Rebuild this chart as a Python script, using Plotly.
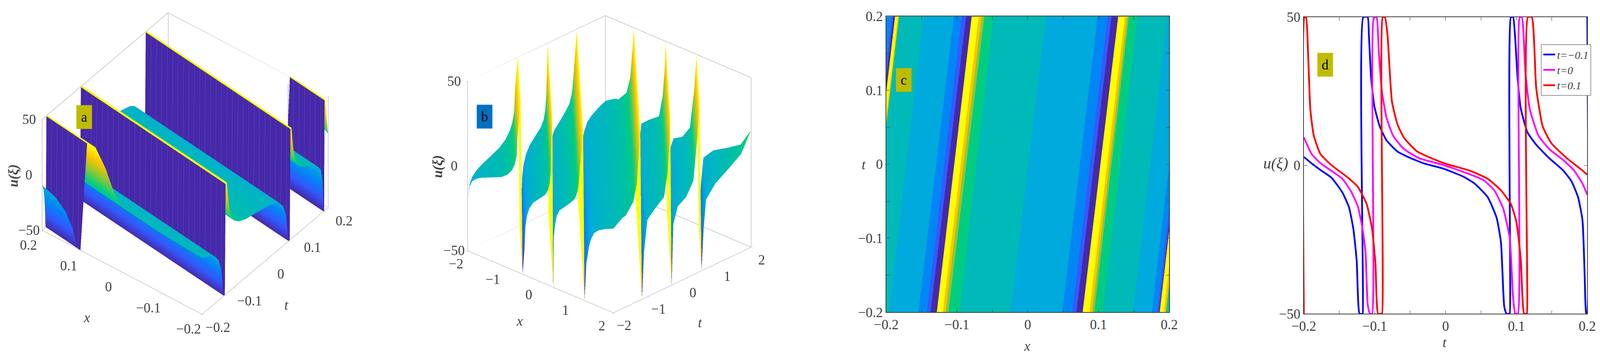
#%% u(xi) soliton figure: two surfaces, one contour map, one line plot
import plotly.graph_objects as go

W, H = 4142, 928
FIG_W, FIG_H = 4089, 916   # the photographed page comes out slightly larger than the layout
OFFSET = 5                 # body margin of the page, in px
FONT = "Liberation Serif"
TXT = "#3f3f3f"
FRAME = "#a6a6a6"

# shared colour levels, purple to yellow
levels = ["#4628aa", "#325aff", "#0087f5", "#00aadc", "#00b9b9", "#00cd82", "#8cc832", "#ffc300", "#ffff00"]

#%% panel d values
d_x_blue = [-0.2, -0.1891, -0.1767, -0.1611, -0.1456, -0.1363, -0.1301, -0.1254, -0.1214, -0.1176, -0.1170, -0.1161, -0.1099, -0.1083, -0.1052, -0.1005, -0.0928, -0.0834, -0.0679, -0.0524, -0.0306, -0.0026, 0.0253, 0.0409, 0.0595, 0.0720, 0.0782, 0.0828, 0.0859, 0.0900, 0.0906, 0.0922, 0.0953, 0.0984, 0.1015, 0.1061, 0.1155, 0.1279, 0.1465, 0.1652, 0.1776, 0.1870, 0.1932, 0.1963, 0.1984, 0.1995, 0.2]
d_u_blue = [2.9, 0.7, -1.5, -4.1, -9.1, -14.1, -21.4, -32.2, -50, -50, -50, 50, 50, 44.6, 30, 20, 13.1, 8.5, 4.7, 2.8, 0.7, -1.1, -3.8, -6.1, -10.7, -17.6, -26, -47.5, -50, -50, -50, 50, 50, 42.3, 30, 19.3, 11.2, 7, 2.4, -1.5, -5.3, -10.7, -18.4, -36.8, -50, -50, 50]

d_x_mag = [-0.2, -0.1891, -0.1767, -0.1611, -0.1456, -0.1332, -0.1239, -0.1176, -0.1130, -0.1099, -0.1068, -0.1037, -0.1012, -0.0974, -0.0943, -0.0897, -0.0834, -0.0741, -0.0586, -0.0368, -0.0026, 0.0253, 0.0533, 0.0688, 0.0813, 0.0906, 0.0953, 0.0984, 0.1021, 0.1046, 0.1077, 0.1124, 0.1186, 0.1310, 0.1465, 0.1652, 0.1807, 0.1932, 0.2]
d_u_mag = [9.5, 3.9, 0.8, -1.8, -4.5, -8.8, -13.7, -20.7, -29.1, -46.8, -50, -50, 50, 50, 38.5, 24.7, 16.2, 10.1, 5.5, 2.4, 0.1, -2.2, -4.9, -8.4, -14.5, -24.5, -44.5, -50, -50, 50, 50, 32.3, 19.3, 10.1, 5.5, 2, -1.5, -6.1, -9.9]

d_x_red = [-0.2, -0.199, -0.1969, -0.1938, -0.1907, -0.186, -0.1767, -0.1611, -0.1394, -0.1239, -0.1114, -0.1037, -0.099, -0.0953, -0.0912, -0.0897, -0.0887, -0.0856, -0.0819, -0.0757, -0.0679, -0.0586, -0.04, -0.0026, 0.0347, 0.0595, 0.0782, 0.0922, 0.1, 0.1061, 0.1108, 0.1142, 0.1148, 0.1161, 0.1217, 0.1279, 0.1372, 0.1496, 0.1714, 0.19, 0.2]
d_u_red = [-50, 50, 50, 36.2, 18.5, 10.1, 3.9, 0.1, -3.8, -7.2, -13, -21.4, -32.9, -50, -50, -50, 50, 50, 43.9, 21.6, 13.9, 9.3, 4.7, 0.8, -1.8, -4.5, -8.4, -13, -19.1, -31.4, -50, -50, -50, 50, 50, 26.2, 13.1, 7.4, 2.4, -1.1, -3.1]

#%% panel a profile across the fronts, the part outside panel d read from a and c
a_xi_left = [-0.24, -0.224, -0.22, -0.217, -0.215, -0.2135, -0.2125, -0.2105, -0.208, -0.205, -0.2025]
a_u_left = [-5, -9.4, -14, -22, -33, -48, -50, 50, 50, 36, 18.5]
a_xi_right = [0.205, 0.208, 0.2095, 0.2112, 0.2125, 0.215, 0.218, 0.222, 0.227, 0.24]
a_u_right = [-18.4, -36.8, -50, -50, 50, 50, 36, 20, 12, 5]
a_drift = 0.12   # slope of the fronts, from panel c
# walls of panel a: foot and top of each jump, and the pale stripes seen on them
a_wall_foot = [-0.2125, -0.1037, 0.1021, 0.2112]
a_wall_top = [-0.2105, -0.1012, 0.1046, 0.2125]
a_stripe_x = [-0.19, -0.175, -0.16, -0.145, -0.13, -0.115, -0.1, -0.085, -0.07, -0.055, -0.04, -0.025, -0.01, 0.005, 0.02, 0.035, 0.05, 0.065, 0.08, 0.095, 0.11, 0.125, 0.14, 0.155, 0.17, 0.185]

#%% panel b profile along x+t, read from the lower rim of the ribbon
b_xi = [-4, -3.94, -3.87, -3.74, -3.6, -3.39, -3.07, -2.9, -2.78, -2.705, -2.65, -2.63, -2.57, -2.54, -2.49, -2.44, -2.415, -2.37, -2.30, -2.2, -2.02, -1.88, -1.79, -1.745, -1.72, -1.69, -1.675, -1.65, -1.635, -1.6, -1.55, -1.48, -1.32, -1.18, -1.05, -0.98, -0.95, -0.855, -0.83, -0.79, -0.74, -0.70, -0.67, -0.61, -0.525, -0.4, -0.225, -0.015, 0.27, 0.36, 0.58, 0.68, 0.75, 0.78, 0.83, 0.89, 0.99, 1.19, 1.47, 1.57, 1.63, 1.65, 1.69, 1.74, 1.87, 2.11, 2.32, 2.44, 2.50, 2.56, 2.62, 2.69, 2.96, 3.37, 3.71, 4]
b_u = [-19.8, -11.3, -7.7, -5, -3.2, -1.2, 2, 5, 8.8, 12.8, 18.6, 29, 45.6, 50, -50, -35.4, -21.6, -14.4, -9.2, -5.2, -1, 2.2, 6, 11, 18, 37.8, 50, -50, -20.4, -12.6, -6.8, -3.2, 0.6, 4.1, 7.9, 12.7, 17.5, 42.5, 50, -50, -27.4, -21.8, -17, -12, -7.7, -5, -2.7, -0.5, 3.5, 3.9, 9.9, 19.6, 39, 50, -50, -22.4, -4.6, -0.6, 4.1, 16.6, 34.7, 50, -50, -14.7, -5.3, -2.2, 5.2, 29.5, 50, -50, -25.7, -9.2, -2.4, 3, 7.9, 19.1]

#%% panel c colour bands: where each band starts at t=-0.2 and at t=0.2
c_start_bottom = [-0.35, -0.2408, -0.2386, -0.2361, -0.232, -0.2307, -0.2298, -0.1959, -0.1545, -0.1426, -0.1373, -0.1285, -0.12, -0.1162, -0.1122, -0.0965, -0.0243, 0.0488, 0.0629, 0.0689, 0.0776, 0.0871, 0.0908, 0.094, 0.1059, 0.1489, 0.1755, 0.1827, 0.1852, 0.1865, 0.1922, 0.1953]
c_start_top = [-0.35, -0.1922, -0.19, -0.1875, -0.1834, -0.1821, -0.1812, -0.1473, -0.1043, -0.0933, -0.0871, -0.0792, -0.0692, -0.0651, -0.0613, -0.0485, 0.0259, 0.0987, 0.1128, 0.1184, 0.1278, 0.1373, 0.1404, 0.1429, 0.1551, 0.1975, 0.2241, 0.2313, 0.2338, 0.2351, 0.2408, 0.2439]
c_level = [2, 1, 0, 8, 7, 5, 4, 3, 2, 1, 0, 8, 7, 6, 5, 4, 3, 2, 1, 0, 8, 7, 6, 5, 4, 3, 2, 1, 0, 8, 7, 5]

#%% tick values
ticks_a = [-0.2, -0.1, 0, 0.1, 0.2]
ticks_b = [-2, -1, 0, 1, 2]
ticks_u = [-50, 0, 50]
ticks_fine = [-0.2, -0.15, -0.1, -0.05, 0, 0.05, 0.1, 0.15, 0.2]
labels_fine = ["−0.2", "", "−0.1", "", "0", "", "0.1", "", "0.2"]


def label(v):
    return str(v).replace("-", "−")


def px(x):
    return (x - OFFSET) / W


def py(y):
    return 1 - (y - OFFSET) / H


def with_walls(xi, u, wall):
    # repeat the knots at a jump so the wall gets one flat colour
    xs, zs, cs = [xi[0]], [u[0]], [u[0]]
    for i in range(1, len(xi)):
        if abs(u[i] - u[i - 1]) > 90:
            xs += [xi[i - 1], xi[i]]
            zs += [u[i - 1], u[i]]
            cs += [wall, wall]
        xs.append(xi[i])
        zs.append(u[i])
        cs.append(u[i])
    return xs, zs, cs


def frame3d(xr, yr, scene):
    x0, x1 = xr
    y0, y1 = yr
    zl, zh = -50, 50
    xs = [x0, x0, None, x0, x0, None, x1, x1, None, x0, x0, x1, None, x0, x0, x1]
    ys = [y0, y0, None, y1, y1, None, y1, y1, None, y0, y1, y1, None, y0, y1, y1]
    zs = [zl, zh, None, zl, zh, None, zl, zh, None, zh, zh, zh, None, zl, zl, zl]
    return go.Scatter3d(x=xs, y=ys, z=zs, mode="lines", line=dict(color=FRAME, width=2),
                        showlegend=False, hoverinfo="skip", scene=scene)


def surf(rows_x, rows_y, z, c, scene):
    cs = [[i / 8, levels[i]] for i in range(9)]
    return go.Surface(x=rows_x, y=rows_y, z=[z, z], surfacecolor=[c, c], colorscale=cs, cmin=-50, cmax=50,
                      showscale=False, hoverinfo="skip", scene=scene,
                      lighting=dict(ambient=1, diffuse=0, specular=0, roughness=1, fresnel=0))


def axis3d(r, vals, title=""):
    return dict(range=r, tickvals=vals, showticklabels=False, ticks="outside", ticklen=8, tickcolor=FRAME,
                showgrid=False, zeroline=False, showbackground=False, showspikes=False, showline=True,
                linecolor=FRAME, linewidth=2, title=dict(text=title))


def ann3d(x, y, z, text, dx, dy):
    return dict(x=x, y=y, z=z, text=text, showarrow=False, xshift=dx, yshift=dy,
                font=dict(family=FONT, size=35, color=TXT))


fig = go.Figure()

#%% panel a
a_xi = a_xi_left + d_x_mag + a_xi_right
a_u = a_u_left + d_u_mag + a_u_right
xi, z, c = with_walls(a_xi, a_u, -50)
rows = [-0.2, 0.2]
fig.add_trace(surf([[r] * len(xi) for r in rows], [[v + a_drift * r for v in xi] for r in rows], z, c, "scene"))
fig.add_trace(frame3d((0.2, -0.2), (-0.2, 0.2), "scene"))
# stripes on the viewer's side of each wall, yellow lip along the top
sx, st, su = [], [], []
for foot, top in zip(a_wall_foot, a_wall_top):
    for r in a_stripe_x:
        sx += [r, r, None]
        st += [foot + a_drift * r - 0.0004, top + a_drift * r - 0.0004, None]
        su += [-50, 50, None]
fig.add_trace(go.Scatter3d(x=sx, y=st, z=su, mode="lines", line=dict(color="#6650b0", width=1.5),
                           showlegend=False, hoverinfo="skip", scene="scene"))
lx, lt, lu = [], [], []
for top in a_wall_top:
    lx += [rows[0], rows[1], None]
    lt += [top + a_drift * rows[0], top + a_drift * rows[1], None]
    lu += [50, 50, None]
fig.add_trace(go.Scatter3d(x=lx, y=lt, z=lu, mode="lines", line=dict(color="#ffff00", width=5),
                           showlegend=False, hoverinfo="skip", scene="scene"))

#%% panel b
xi, z, c = with_walls(b_xi, b_u, 50)
rows = [-2, 2]
fig.add_trace(surf([[v - r for v in xi] for r in rows], [[r] * len(xi) for r in rows], z, c, "scene2"))
fig.add_trace(frame3d((-2, 2), (-2, 2), "scene2"))

#%% panel c
for i, col in enumerate(c_level):
    fig.add_trace(go.Scatter(x=[c_start_bottom[i], c_start_top[i], 0.3, 0.3], y=[-0.2, 0.2, 0.2, -0.2],
                             fill="toself", fillcolor=levels[col], mode="lines", line=dict(width=0),
                             showlegend=False, hoverinfo="skip", xaxis="x", yaxis="y"))

#%% panel d
smooth = dict(shape="spline", smoothing=0.5, width=4.5)
fig.add_trace(go.Scatter(x=d_x_blue, y=d_u_blue, mode="lines", name="<i>t=−0.1</i>", line=dict(color="#0000ff", **smooth), xaxis="x2", yaxis="y2"))
fig.add_trace(go.Scatter(x=d_x_mag, y=d_u_mag, mode="lines", name="<i>t=0</i>", line=dict(color="#ff00ff", **smooth), xaxis="x2", yaxis="y2"))
fig.add_trace(go.Scatter(x=d_x_red, y=d_u_red, mode="lines", name="<i>t=0.1</i>", line=dict(color="#ff0000", **smooth), xaxis="x2", yaxis="y2"))

#%% layout
scene_w, scene_h = 900, 800
ca, cb = (477.5, 421.5), (1577, 423)
cam_d = 1.13
box_a, box_b = 1.32, 1.3


def dom(c):
    return dict(x=[px(c[0] - scene_w / 2), px(c[0] + scene_w / 2)], y=[py(c[1] + scene_h / 2), py(c[1] - scene_h / 2)])


def eye(a, b, cos_el, sin_el):
    return dict(x=a * cos_el * cam_d, y=-b * cos_el * cam_d, z=sin_el * cam_d)


scene_a = dict(domain=dom(ca), aspectmode="manual", aspectratio=dict(x=box_a, y=box_a, z=0.732 * box_a),
               xaxis=axis3d([0.2, -0.2], ticks_a), yaxis=axis3d([-0.2, 0.2], ticks_a), zaxis=axis3d([-50, 50], ticks_u),
               camera=dict(projection=dict(type="orthographic"), eye=eye(0.619, 0.785, 0.7445, 0.6676),
                           up=dict(x=0, y=0, z=1), center=dict(x=0, y=0, z=0)),
               annotations=[ann3d(v, -0.2, -50, label(v), -35, -38) for v in ticks_a]
               + [ann3d(-0.2, v, -50, label(v), 40, -34) for v in ticks_a]
               + [ann3d(0.2, -0.2, v, label(v), -34, 0) for v in ticks_u])
scene_b = dict(domain=dom(cb), aspectmode="manual", aspectratio=dict(x=box_b, y=box_b, z=0.948 * box_b),
               xaxis=axis3d([-2, 2], ticks_b), yaxis=axis3d([-2, 2], ticks_b), zaxis=axis3d([-50, 50], ticks_u),
               camera=dict(projection=dict(type="orthographic"), eye=eye(0.687, 0.727, 0.8925, 0.451),
                           up=dict(x=0, y=0, z=1), center=dict(x=0, y=0, z=0)),
               annotations=[ann3d(v, -2, -50, label(v), -29, -34) for v in ticks_b]
               + [ann3d(2, v, -50, label(v), 27, -33) for v in ticks_b]
               + [ann3d(-2, -2, v, label(v), -34, 0) for v in ticks_u])


def axis2d(dom_px, is_x):
    a = dict(domain=[px(dom_px[0]), px(dom_px[1])] if is_x else [py(dom_px[1]), py(dom_px[0])], range=[-0.2, 0.2],
             tickmode="array", tickvals=ticks_fine, ticktext=labels_fine, ticks="inside", ticklen=9, tickcolor="#404040",
             showgrid=False, zeroline=False, showline=True, mirror="ticks", linecolor="#404040", linewidth=1.5,
             tickfont=dict(family=FONT, size=35, color=TXT))
    return a


xc, yc = axis2d((2295, 3029), True), axis2d((39.6, 807.7), False)
xd = axis2d((3378, 4113), True)
yd = axis2d((41.4, 811.8), False)
yd.update(range=[-50, 50], tickvals=ticks_u, ticktext=["−50", "0", "50"])
xc["anchor"], yc["anchor"], xd["anchor"], yd["anchor"] = "y", "x", "y2", "x2"


def tag(text, cx, cy, col, w=37, h=58):
    return dict(x=px(cx), y=py(cy), xref="paper", yref="paper", xanchor="center", yanchor="middle", text=text, showarrow=False,
                bgcolor=col, width=w, height=h, font=dict(family=FONT, size=35, color="black"), valign="middle", align="center")


def note(text, cx, cy, angle=0, size=35):
    return dict(x=px(cx), y=py(cy), xref="paper", yref="paper", xanchor="center", yanchor="middle", text=text, showarrow=False,
                textangle=angle, font=dict(family=FONT, size=size, color=TXT))


fig.update_layout(
    width=FIG_W, height=FIG_H, margin=dict(l=0, r=0, t=0, b=0, autoexpand=False), paper_bgcolor="white", plot_bgcolor="white",
    scene=scene_a, scene2=scene_b, xaxis=xc, yaxis=yc, xaxis2=xd, yaxis2=yd,
    legend=dict(x=px(3993), y=py(112.4), xanchor="left", yanchor="top", bgcolor="white", bordercolor="#404040", borderwidth=1,
                font=dict(family=FONT, size=28, color=TXT)),
    annotations=[
        tag("a", 215, 301, "#bfbc00"), tag("b", 1253.5, 299.7, "#0070c0"), tag("c", 2340.5, 205, "#bfbc00"), tag("d", 3433.5, 164.6, "#bfbc00"),
        note("<b><i>u(ξ)</i></b>", 32, 452.7, -90), note("<i>x</i>", 222, 822.5), note("<i>t</i>", 740, 790),
        note("<b><i>u(ξ)</i></b>", 1132, 429, -90), note("<i>x</i>", 1345, 831), note("<i>t</i>", 1813, 835.5),
        note("<i>t</i>", 2237, 425), note("<i>x</i>", 2660, 896),
        note("<i>u(ξ)</i>", 3305, 421, 0, 40), note("<i>t</i>", 3743, 887),
    ],
)

fig.write_html("out.html")
